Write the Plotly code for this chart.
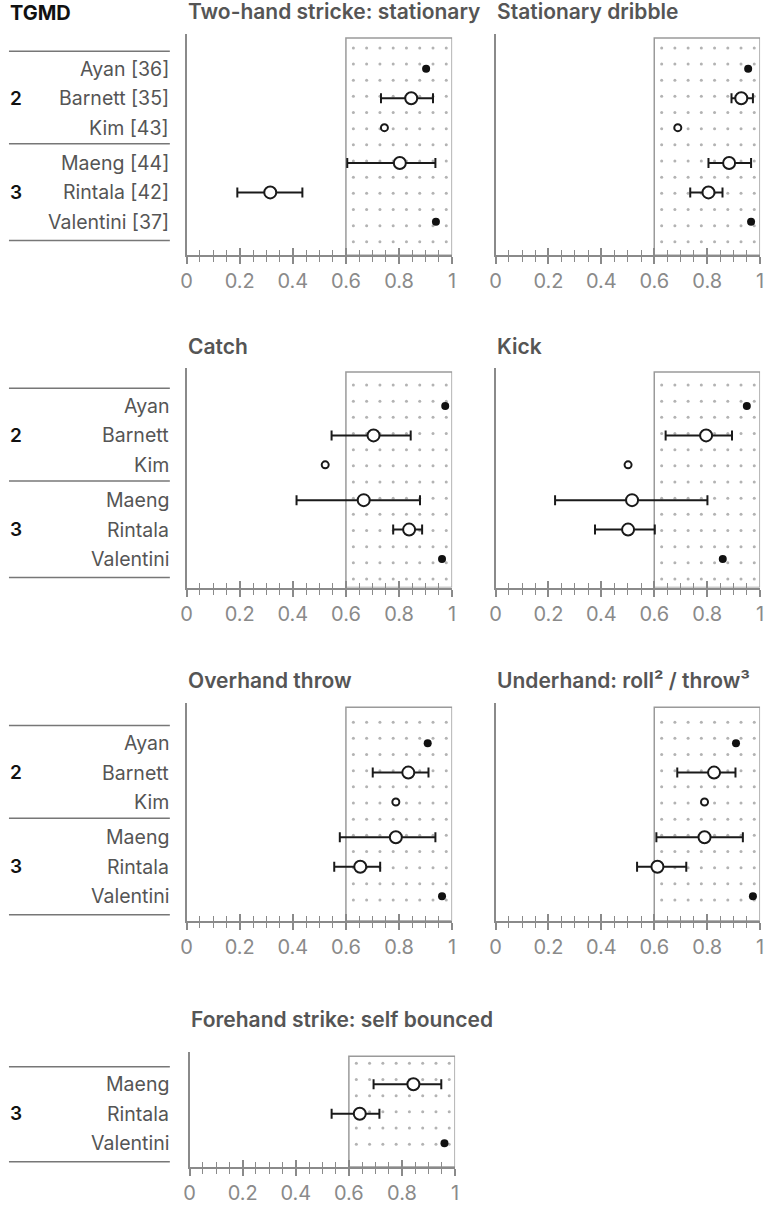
import numpy as np
import plotly.graph_objects as go

# studies, top to bottom
studies = ["Ayan", "Barnett", "Kim", "Maeng", "Rintala", "Valentini"]
study_refs = ["[36]", "[35]", "[43]", "[44]", "[42]", "[37]"]
study_group = ["2", "2", "2", "3", "3", "3"]
# filled = single value, small = open single value, ci = estimate with interval
study_kind = ["filled", "ci", "small", "ci", "ci", "filled"]

skills = ["Two-hand stricke: stationary", "Stationary dribble", "Catch", "Kick",
          "Overhand throw", "Underhand: roll² / throw³", "Forehand strike: self bounced"]

strike_est = [0.902, 0.846, 0.745, 0.803, 0.315, 0.939]
strike_lo = [None, 0.732, None, 0.605, 0.191, None]
strike_hi = [None, 0.928, None, 0.937, 0.436, None]

dribble_est = [0.955, 0.929, 0.689, 0.883, 0.805, 0.966]
dribble_lo = [None, 0.892, None, 0.805, 0.736, None]
dribble_hi = [None, 0.973, None, 0.966, 0.858, None]

catch_est = [0.974, 0.704, 0.522, 0.667, 0.838, 0.962]
catch_lo = [None, 0.546, None, 0.414, 0.778, None]
catch_hi = [None, 0.844, None, 0.879, 0.887, None]

kick_est = [0.950, 0.796, 0.501, 0.516, 0.501, 0.859]
kick_lo = [None, 0.643, None, 0.225, 0.376, None]
kick_hi = [None, 0.894, None, 0.801, 0.602, None]

overhand_est = [0.908, 0.835, 0.788, 0.788, 0.654, 0.962]
overhand_lo = [None, 0.701, None, 0.577, 0.556, None]
overhand_hi = [None, 0.911, None, 0.937, 0.729, None]

underhand_est = [0.909, 0.826, 0.790, 0.790, 0.612, 0.973]
underhand_lo = [None, 0.687, None, 0.608, 0.535, None]
underhand_hi = [None, 0.907, None, 0.935, 0.721, None]

# forehand only has Maeng, Rintala, Valentini
forehand_est = [0.843, 0.641, 0.960]
forehand_lo = [0.693, 0.535, None]
forehand_hi = [0.948, 0.715, None]

THRESHOLD = 0.6

W, H = 769, 1205
U = 29.5  # px per study row
FONT = "Inter"
GRAY = "#8a8a8a"

cols = [(183, 452), (496, 764)]
rows = [dict(title=12, top=34, base=256, first=69),
        dict(title=347, top=369, base=589, first=407),
        dict(title=682, top=705, base=923, first=745),
        dict(title=1022, top=1055, base=1170, first=1087)]

panels = [
    (strike_est, strike_lo, strike_hi, 0, cols[0]),
    (dribble_est, dribble_lo, dribble_hi, 0, cols[1]),
    (catch_est, catch_lo, catch_hi, 1, cols[0]),
    (kick_est, kick_lo, kick_hi, 1, cols[1]),
    (overhand_est, overhand_lo, overhand_hi, 2, cols[0]),
    (underhand_est, underhand_lo, underhand_hi, 2, cols[1]),
    (forehand_est, forehand_lo, forehand_hi, 3, (186, 455)),
]

fig = go.Figure()
layout = {}
annotations = []
shapes = []


def px_x(p):
    return p / W


def px_y(p):
    return 1 - p / H


for k, (est, lo, hi, r, (cx0, cx1)) in enumerate(panels):
    i = k + 1
    sfx = "" if i == 1 else str(i)
    xr, yr = "x" + sfx, "y" + sfx
    ov = str(i + 7)
    row = rows[r]
    names = studies[-len(est):]
    kinds = study_kind[-len(est):]
    groups = study_group[-len(est):]
    refs = study_refs[-len(est):]

    # row positions with a small gap between groups
    pos = []
    p = 0.0
    for j in range(len(names)):
        if j > 0:
            p += 1.0 + (0.2 if groups[j] != groups[j - 1] else 0.0)
        pos.append(p)

    y_bot = (row["base"] - row["first"]) / U
    y_top = -(row["first"] - row["top"]) / U
    box_top = y_top + 4 / U

    tick_common = dict(dtick=0.2, tick0=0, ticklen=7, tickwidth=2, tickcolor=GRAY)
    layout["xaxis" + sfx] = dict(
        domain=[px_x(cx0), px_x(cx1)], range=[0, 1], anchor=yr,
        showgrid=False, zeroline=False, showline=True, linecolor=GRAY, linewidth=2,
        ticks="outside", **tick_common,
        minor=dict(dtick=0.05, ticks="outside", ticklen=5, tickwidth=1.2, tickcolor=GRAY),
        tickfont=dict(family=FONT, size=20, color=GRAY), fixedrange=True)
    # second axis on top of the first to make the ticks cross the baseline
    layout["xaxis" + ov] = dict(
        overlaying=xr, anchor=yr, range=[0, 1], side="bottom",
        showgrid=False, zeroline=False, showline=False, showticklabels=False,
        ticks="inside", **tick_common,
        minor=dict(dtick=0.05, ticks="inside", ticklen=5, tickwidth=1.2, tickcolor=GRAY))
    layout["yaxis" + sfx] = dict(
        domain=[px_y(row["base"]), px_y(row["top"])], range=[y_bot, y_top],
        anchor=xr, showgrid=False, zeroline=False, showticklabels=False,
        showline=True, linecolor=GRAY, linewidth=2, ticks="", fixedrange=True)

    fig.add_trace(go.Scatter(x=[0.5], y=[0], xaxis="x" + ov, yaxis=yr, mode="markers",
                             marker=dict(opacity=0), hoverinfo="skip", showlegend=False))

    # threshold box with dotted pattern
    shapes.append(dict(type="rect", xref=xr, yref=yr, x0=THRESHOLD, x1=1, y0=box_top, y1=y_bot,
                       line=dict(color="#9a9a9a", width=1.5), layer="below"))
    gx = np.arange(THRESHOLD + 0.028, 1.0, 0.05)
    gy = np.arange(-21 / U, y_bot - 8 / U, 16.2 / U)
    GX, GY = np.meshgrid(gx, gy)
    fig.add_trace(go.Scatter(x=GX.ravel(), y=GY.ravel(), xaxis=xr, yaxis=yr, mode="markers",
                             marker=dict(size=3, color="#b3b3b3"), hoverinfo="skip",
                             showlegend=False))

    # points
    for kind in ["ci", "small", "filled"]:
        idx = [j for j in range(len(est)) if kinds[j] == kind]
        if not idx:
            continue
        xs = [est[j] for j in idx]
        ys = [pos[j] for j in idx]
        if kind == "ci":
            fig.add_trace(go.Scatter(
                x=xs, y=ys, xaxis=xr, yaxis=yr, mode="markers", showlegend=False,
                error_x=dict(type="data", symmetric=False,
                             array=[hi[j] - est[j] for j in idx],
                             arrayminus=[est[j] - lo[j] for j in idx],
                             color="#1a1a1a", thickness=2, width=5),
                marker=dict(size=12, color="white", line=dict(color="#1a1a1a", width=2))))
        elif kind == "small":
            fig.add_trace(go.Scatter(
                x=xs, y=ys, xaxis=xr, yaxis=yr, mode="markers", showlegend=False,
                marker=dict(size=7, color="white", line=dict(color="#1a1a1a", width=2))))
        else:
            fig.add_trace(go.Scatter(
                x=xs, y=ys, xaxis=xr, yaxis=yr, mode="markers", showlegend=False,
                marker=dict(size=8, color="#111111")))

    # panel title
    annotations.append(dict(text=skills[k], xref="paper", yref="paper",
                            x=px_x(cx0 - 1), y=px_y(row["title"]),
                            xanchor="left", yanchor="middle", showarrow=False,
                            font=dict(family=FONT, size=21, color="#555555", weight=600)))

    # study labels, group numbers and rules on the left column only
    if cx0 < 300:
        for j, n in enumerate(names):
            lab = f"{n} {refs[j]}" if k == 0 else n
            annotations.append(dict(text=lab, xref="paper", yref=yr, x=px_x(167), y=pos[j],
                                    xanchor="right", yanchor="middle", showarrow=False,
                                    font=dict(family=FONT, size=19.5, color="#555555")))
        for g in dict.fromkeys(groups):
            gi = [j for j in range(len(names)) if groups[j] == g]
            annotations.append(dict(text=g, xref="paper", yref=yr, x=px_x(2),
                                    y=sum(pos[j] for j in gi) / len(gi),
                                    xanchor="left", yanchor="middle", showarrow=False,
                                    font=dict(family=FONT, size=19, color="#111111", weight=600)))
        line_y = [pos[0] - 0.6, pos[-1] + 0.63]
        for a in range(1, len(names)):
            if groups[a] != groups[a - 1]:
                line_y.append(pos[a - 1] + 0.55)
        for ly in line_y:
            shapes.append(dict(type="line", xref="paper", yref=yr, x0=px_x(3), x1=px_x(166),
                               y0=ly, y1=ly, line=dict(color="#777777", width=1.5)))

annotations.append(dict(text="TGMD", xref="paper", yref="paper", x=px_x(2), y=px_y(13),
                        xanchor="left", yanchor="middle", showarrow=False,
                        font=dict(family=FONT, size=20, color="#111111", weight=700)))

fig.update_layout(**layout)
fig.update_layout(width=W, height=H, margin=dict(l=0, r=0, t=0, b=0),
                  plot_bgcolor="white", paper_bgcolor="white", showlegend=False,
                  annotations=annotations, shapes=shapes, font=dict(family=FONT))

# drop the default body margin so the figure sits at the window's corner
fig.write_html("out.html", config={"displayModeBar": False},
               post_script="document.body.style.margin = '0';")
